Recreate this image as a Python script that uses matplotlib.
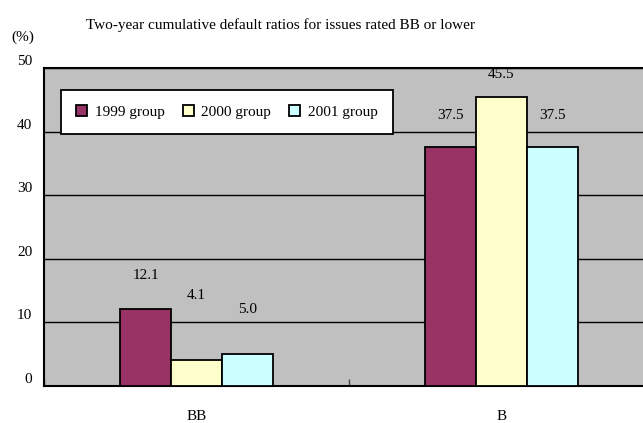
import matplotlib.pyplot as plt
import numpy as np

categories = ["BB", "B"]
groups = ["1999 group", "2000 group", "2001 group"]
values_1999 = [12.1, 37.5]
values_2000 = [4.1, 45.5]
values_2001 = [5.0, 37.5]
value_labels = [["12.1", "37.5"], ["4.1", "45.5"], ["5.0", "37.5"]]
yticks = [0, 10, 20, 30, 40, 50]

colors = ["#993366", "#FFFFCC", "#CCFFFF"]
# label offsets above bar tops (data units), labels were hand placed
label_offsets = [[5.35, 5.1], [10.2, 3.4], [6.95, 5.0]]

plt.rcParams["font.family"] = ["Liberation Serif", "DejaVu Serif"]
plt.rcParams["font.size"] = 11

fig = plt.figure(figsize=(6.43, 4.23), dpi=100)
W, H = 643, 423
ax = fig.add_axes([44 / W, 37 / H, 610 / W, 318 / H])
ax.set_facecolor("#C0C0C0")

x = np.arange(len(categories))
width = 0.167
series = [values_1999, values_2000, values_2001]
for i, vals in enumerate(series):
    pos = x + (i - 1) * width
    ax.bar(pos, vals, width=width, color=colors[i], edgecolor="black",
           linewidth=1.3, label=groups[i], zorder=3)
    for j, v in enumerate(vals):
        ax.text(pos[j], v + label_offsets[i][j], value_labels[i][j],
                ha="center", va="center", zorder=4)

ax.set_xlim(-0.5, 1.5)
ax.set_ylim(0, 50)
ax.set_yticks(yticks)
ax.set_yticklabels([str(t) for t in yticks])
ax.yaxis.grid(True, color="black", linewidth=1.0, zorder=1)
ax.set_axisbelow(True)
ax.tick_params(axis="y", length=0, pad=8.5, labelsize=11)
for lbl in ax.get_yticklabels():
    lbl.set_verticalalignment("bottom")

ax.set_xticks(x)
ax.set_xticklabels(categories)
ax.tick_params(axis="x", length=0, pad=17, labelsize=11)
ax.set_xticks([-0.5, 0.5, 1.5], minor=True)
ax.tick_params(axis="x", which="minor", direction="in", length=5, width=1, color="#444444")

for s in ax.spines.values():
    s.set_color("black")
    s.set_linewidth(1.5)

leg = ax.legend(loc="upper left", bbox_to_anchor=(61 / W, 1 - 90 / H),
                bbox_transform=fig.transFigure, ncol=3, fancybox=False,
                framealpha=1, edgecolor="black", handlelength=0.7,
                handleheight=0.7, handletextpad=0.5, columnspacing=1.2,
                borderpad=1.0, borderaxespad=0, fontsize=11)
leg.get_frame().set_linewidth(1.3)
leg.set_zorder(5)

fig.text(281 / W, 1 - 25 / H, "Two-year cumulative default ratios for issues rated BB or lower",
         ha="center", va="center", fontsize=11)
fig.text(23 / W, 1 - 37 / H, "(%)", ha="center", va="center", fontsize=11)

fig.savefig("out.png", dpi=100)
